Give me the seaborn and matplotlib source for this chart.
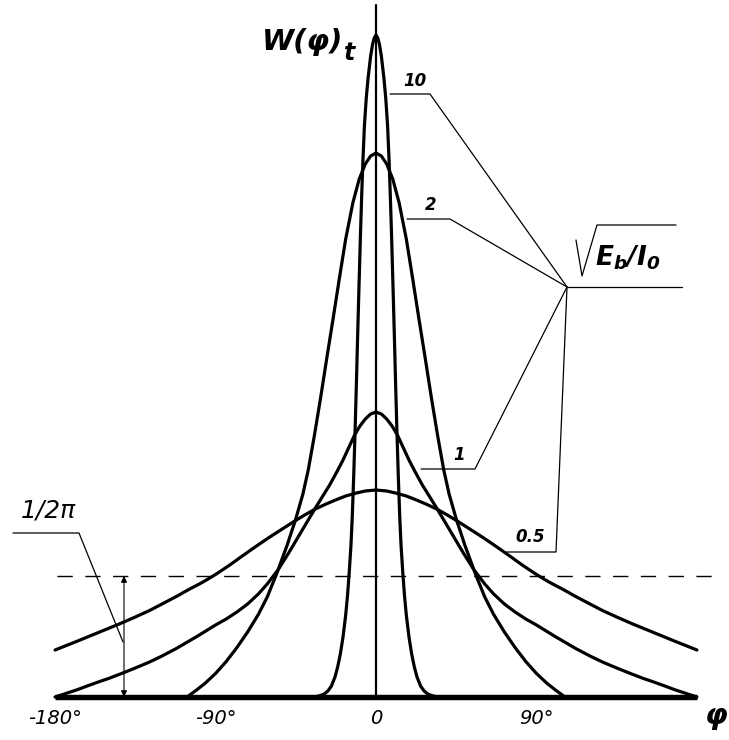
import matplotlib
matplotlib.use("Agg")
import matplotlib.pyplot as plt
import pandas as pd
import seaborn as sns

# ---- data (phase in degrees, density in drawing units) ----
snr_labels = ["10", "2", "1", "0.5"]

phi_10 = [0, 1, 2, 3, 4.5, 5.5, 6.5, 7.3, 8, 8.7, 9.5, 10.3, 11, 11.8, 12.5, 13.3, 14, 15,
          16, 17, 18.5, 20, 21.5, 23, 25, 27, 29, 32, 35]
w_10 = [662, 659, 652, 641, 618, 598, 571, 538, 503, 463, 413, 361, 313, 262, 221, 181, 153,
        125, 101, 82, 60, 43, 30, 20, 11, 6, 3, 1, 0]

phi_2 = [0, 3, 6, 9.4, 13, 17, 20.6, 24, 27.5, 31, 34.6, 38, 41, 45, 50, 56, 61, 66, 72,
         78, 84, 90, 96, 101, 106]
w_2 = [544, 541, 533, 518, 494, 458, 418, 379, 340, 300, 261, 227, 203, 178, 151, 122, 100,
       82.5, 65, 49.5, 35.5, 23.5, 13.5, 6.5, 0]

phi_1 = [0, 3, 6, 9, 12, 15, 18.5, 22, 26, 30, 34, 38, 43, 49, 55, 61, 66, 72, 78, 84, 90,
         100, 112, 120, 127, 135, 142, 150, 155, 162, 168, 174, 180]
w_1 = [285, 283, 278, 271, 262, 250.5, 237, 225, 212, 200.5, 189, 177, 162, 144, 127, 113,
       103, 93, 85, 78, 72, 61, 48.5, 41, 35, 29, 24, 18.5, 15.5, 11, 7, 3.5, 0]

phi_05 = [0, 6, 11, 17, 22, 28, 34, 40, 46, 53, 60, 67, 75, 82, 90, 97, 105, 112, 120, 127,
          135, 144, 155, 168, 180]
w_05 = [207, 206, 204, 201, 197.5, 193, 188, 182, 175.5, 167.5, 159.5, 151, 141, 132, 122.5,
        115, 107.5, 100.5, 93, 86.5, 80, 73, 65, 55.5, 47]

level_1_2pi = 121          # 1/2π level, same units

tick_pos = [-180, -90, 0, 90]
tick_text = ["-180°", "-90°", "0", "90°"]

# ---- build long table (curves are symmetric about 0) ----
rows = []
for lab, ph, w in zip(snr_labels, [phi_10, phi_2, phi_1, phi_05], [w_10, w_2, w_1, w_05]):
    full_phi = [-v for v in ph[::-1]] + ph[1:]
    full_w = w[::-1] + w[1:]
    for p, v in zip(full_phi, full_w):
        rows.append({"phi": p, "W": v, "snr": lab})
df = pd.DataFrame(rows)

sns.set_theme(style="white")
plt.rcParams["font.family"] = ["DejaVu Sans"]
plt.rcParams["text.color"] = "black"
plt.rcParams["mathtext.fontset"] = "custom"
plt.rcParams["mathtext.it"] = "DejaVu Sans:italic:bold"
plt.rcParams["mathtext.rm"] = "DejaVu Sans:italic:bold"
plt.rcParams["mathtext.bf"] = "DejaVu Sans:bold"

W_PX, H_PX = 729, 740
fig = plt.figure(figsize=(W_PX / 100, H_PX / 100), dpi=100)
ax = fig.add_axes([0, 0, 1, 1])
X0, SX, Y0 = 376, 1.783, 697
ax.set_xlim(-X0 / SX, (W_PX - X0) / SX)
ax.set_ylim(Y0 - H_PX, Y0)
ax.axis("off")


def P(px, py):
    return ((px - X0) / SX, Y0 - py)


# curves
sns.lineplot(data=df, x="phi", y="W", hue="snr", units="snr", estimator=None, sort=False,
             palette=["black"] * 4, legend=False, lw=2.3, solid_joinstyle="round", ax=ax)

# baseline and vertical axis
ax.plot([tick_pos[0], -tick_pos[0]], [0, 0], color="black", lw=3.9, solid_capstyle="butt")
ax.plot([0, 0], [0, P(0, 5)[1]], color="black", lw=1.6)

# 1/2π dashed level
ax.plot([P(57, 0)[0], P(712, 0)[0]], [level_1_2pi, level_1_2pi], color="black", lw=1.0,
        ls=(0, (11, 9)))
xa = P(124, 0)[0]
ax.annotate("", xy=(xa, level_1_2pi), xytext=(xa, 0),
            arrowprops=dict(arrowstyle="<|-|>", color="black", lw=0.8, mutation_scale=9,
                            shrinkA=0, shrinkB=0))

# leader lines
leaders = [
    [(13, 533), (79, 533), (123, 642)],
    [(390, 94), (430, 94), (567, 287)],
    [(407, 219), (450, 219), (567, 287)],
    [(421, 469), (475, 469), (567, 287)],
    [(506, 552), (556, 552), (567, 287)],
    [(567, 287), (682, 287)],
    [(576, 240), (582, 276), (597, 225), (676, 225)],   # radical sign
]
for pts in leaders:
    xs, ys = zip(*[P(a, b) for a, b in pts])
    ax.plot(xs, ys, color="black", lw=0.9)

# curve labels
for lab, (px, py) in zip(snr_labels, [(415, 81), (431, 205), (459, 455), (530, 537)]):
    x, y = P(px, py)
    ax.text(x, y, lab, fontsize=12, fontstyle="italic", fontweight="bold",
            ha="center", va="center")

x, y = P(48, 511)
ax.text(x, y, "1/2π", fontsize=18, fontstyle="italic", ha="center", va="center")

x, y = P(595, 265)
ax.text(x, y, r"$E_b/I_0$", fontsize=19, ha="left", va="baseline")

# tick labels
for t, s in zip(tick_pos, tick_text):
    ax.text(t, P(0, 718)[1], s, fontsize=14, fontstyle="italic", ha="center", va="center")
x, y = P(716, 716)
ax.text(x, y, "φ", fontsize=21, fontstyle="italic", fontweight="bold", ha="center", va="center")

# axis title
x, y = P(343, 50)
ax.text(x, y, "W(φ)", fontsize=21, fontstyle="italic", fontweight="bold", ha="right",
        va="baseline")
x, y = P(344, 60)
ax.text(x, y, "t", fontsize=17, fontstyle="italic", fontweight="bold", ha="left",
        va="baseline")

fig.savefig("out.png", dpi=100)
